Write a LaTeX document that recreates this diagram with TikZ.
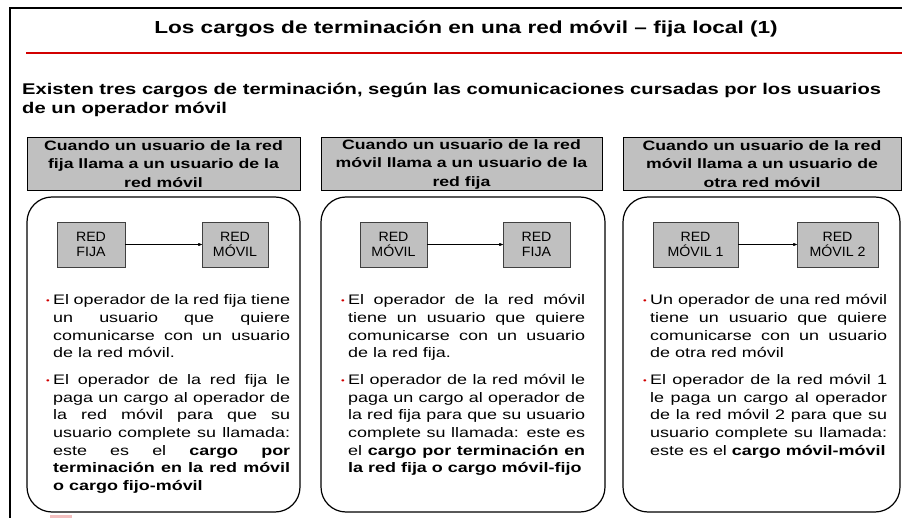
\documentclass[tikz,border=0pt]{standalone}
\usepackage{fontspec}
\setmainfont{Liberation Sans}[FakeStretch=1.3]
\newfontfamily\netfont{Liberation Sans}[FakeStretch=1.05]
\usepackage{tikz}
\usetikzlibrary{shapes,arrows}

\definecolor{boxgray}{RGB}{192,192,192}
\definecolor{linered}{RGB}{210,0,0}
\newcommand{\redbul}{\leavevmode\llap{\textcolor{linered}{\raisebox{1pt}{\fontsize{8}{8}\selectfont\textbullet}}\hspace{3.5pt}}}
\newcommand{\bulgap}{\par\vspace{9.4pt}}

\begin{document}
\begin{tikzpicture}[x=1pt,y=-1pt]
	\def \headrow{164}
	\def \panelrow{354.5}
	\def \netrow{244.5}
	\def \textrow{305}

	\tikzstyle{head-box}=[draw=black,fill=boxgray,inner sep=0pt,minimum height=53pt,align=center,font=\fontsize{13.6}{18.5}\selectfont\bfseries]
	\tikzstyle{panel}=[draw=black,line width=1.2pt,rounded corners=25pt,fill=white,minimum height=315pt]
	\tikzstyle{net-node}=[draw=black!75,fill=boxgray,inner sep=0pt,minimum height=45pt,align=center,font=\netfont\fontsize{13.5}{15.5}\selectfont]
	\tikzstyle{bul-text}=[anchor=base west,inner sep=0pt,text width=237pt,align=justify,font=\fontsize{13.8}{17.6}\selectfont]
	\tikzstyle{flow}=[->,>=stealth',thin]

	\useasboundingbox (0,0) rectangle (902,518);

	% slide frame
	\draw[line width=2pt] (10,518) -- (10,8) -- (902,8);
	\draw[linered,line width=2pt] (26,53) -- (902,53);
	\fill[linered!25] (50,515) rectangle (72,518);

	\node[anchor=base,inner sep=0pt,font=\fontsize{17.4}{20}\selectfont\bfseries] (title) at (466,34)
		{Los cargos de terminación en una red móvil – fija local (1)};
	% last line sits on the anchor
	\node[anchor=base west,inner sep=0pt,align=left,font=\fontsize{15.5}{19.5}\selectfont\bfseries] (intro) at (22,114)
		{Existen tres cargos de terminación, según las comunicaciones cursadas por los usuarios\\de un operador móvil};

	% headers
	\node[head-box,minimum width=273pt]	(h1)	at (163.5,\headrow)	{Cuando un usuario de la red\\fija llama a un usuario de la\\red móvil};
	\node[head-box,minimum width=281pt]	(h2)	at (461.5,\headrow)	{Cuando un usuario de la red\\móvil llama a un usuario de la\\red fija};
	\node[head-box,minimum width=278pt]	(h3)	at (762,\headrow)	{Cuando un usuario de la red\\móvil llama a un usuario de\\otra red móvil};

	% rounded panels
	\node[panel,minimum width=273pt]	(p1)	at (163.5,\panelrow)	{};
	\node[panel,minimum width=284pt]	(p2)	at (463,\panelrow)	{};
	\node[panel,minimum width=277pt]	(p3)	at (761.5,\panelrow)	{};

	% networks
	\node[net-node,minimum width=68pt]	(fija1)	at (91,\netrow)	{RED\\FIJA};
	\node[net-node,minimum width=66pt]	(movil1)	at (235,\netrow)	{RED\\MÓVIL};
	\node[net-node,minimum width=67pt]	(movil2)	at (393.5,\netrow)	{RED\\MÓVIL};
	\node[net-node,minimum width=67pt]	(fija2)	at (536.5,\netrow)	{RED\\FIJA};
	\node[net-node,minimum width=85pt]	(movilA)	at (695.5,\netrow)	{RED\\MÓVIL 1};
	\node[net-node,minimum width=81pt]	(movilB)	at (837.5,\netrow)	{RED\\MÓVIL 2};

	\path[flow]
		(fija1)	edge	(movil1)
		(movil2)	edge	(fija2)
		(movilA)	edge	(movilB);

	% bullet texts
	\node[bul-text]	(t1)	at (53,\textrow)
		{\redbul El operador de la red fija tiene\linebreak un usuario que quiere\linebreak comunicarse con un usuario\linebreak de la red móvil.\bulgap
		\redbul El operador de la red fija le\linebreak paga un cargo al operador de\linebreak la red móvil para que su\linebreak usuario complete su llamada:\linebreak este es el \textbf{cargo por\linebreak terminación en la red móvil\linebreak o cargo fijo-móvil}};
	\node[bul-text]	(t2)	at (348,\textrow)
		{\redbul El operador de la red móvil\linebreak tiene un usuario que quiere\linebreak comunicarse con un usuario\linebreak de la red fija.\bulgap
		\redbul El operador de la red móvil le\linebreak paga un cargo al operador de\linebreak la red fija para que su usuario\linebreak complete su llamada: este es\linebreak el \textbf{cargo por terminación en\linebreak la red fija o cargo móvil-fijo}};
	\node[bul-text]	(t3)	at (650,\textrow)
		{\redbul Un operador de una red móvil\linebreak tiene un usuario que quiere\linebreak comunicarse con un usuario\linebreak de otra red móvil\bulgap
		\redbul El operador de la red móvil 1\linebreak le paga un cargo al operador\linebreak de la red móvil 2 para que su\linebreak usuario complete su llamada:\linebreak este es el \textbf{cargo móvil-móvil}};
\end{tikzpicture}
\end{document}
